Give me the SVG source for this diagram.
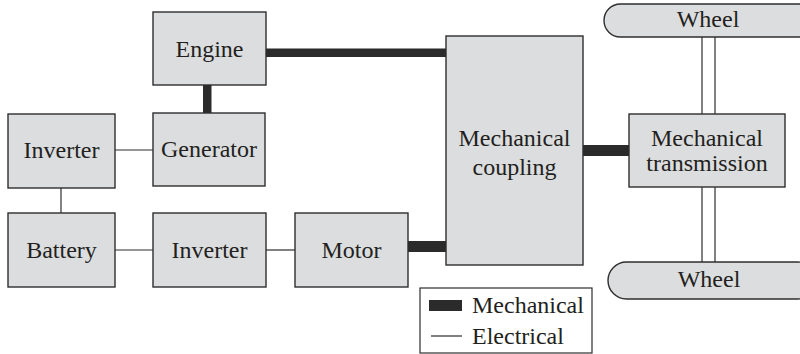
<svg xmlns="http://www.w3.org/2000/svg" width="800" height="354" viewBox="0 0 800 354">
<style>
.box{fill:#dcdddf;stroke:#2e2e2e;stroke-width:1.4}
.t{font-family:"Liberation Serif","Times New Roman",serif;font-size:24px;fill:#231f20;text-anchor:middle}
.lt{font-family:"Liberation Serif","Times New Roman",serif;font-size:24px;fill:#231f20}
.mech{fill:#2b2b2b;stroke:none}
.elec{stroke:#2e2e2e;stroke-width:1.2;fill:none}
</style>
<rect width="800" height="354" fill="#ffffff"/>
<g id="connectors">
<rect class="mech" x="266" y="48.5" width="180" height="8.5"/>
<rect class="mech" x="203" y="85" width="8.5" height="28"/>
<rect class="mech" x="408" y="241" width="38" height="11"/>
<rect class="mech" x="583" y="145" width="46" height="11"/>
<line class="elec" x1="115" y1="150" x2="153" y2="150"/>
<line class="elec" x1="61" y1="188" x2="61" y2="213"/>
<line class="elec" x1="115" y1="250" x2="153" y2="250"/>
<line class="elec" x1="266" y1="250" x2="295" y2="250"/>
<line class="elec" x1="702" y1="37" x2="702" y2="114"/>
<line class="elec" x1="715" y1="37" x2="715" y2="114"/>
<line class="elec" x1="702" y1="187" x2="702" y2="262"/>
<line class="elec" x1="715" y1="187" x2="715" y2="262"/>
</g>
<g id="engine"><rect class="box" x="153" y="12" width="113" height="73"/><text class="t" x="209.5" y="57">Engine</text></g>
<g id="generator"><rect class="box" x="153" y="113" width="112" height="73"/><text class="t" x="209" y="157">Generator</text></g>
<g id="inverter1"><rect class="box" x="8" y="114" width="107" height="74"/><text class="t" x="61.5" y="158">Inverter</text></g>
<g id="battery"><rect class="box" x="8" y="213" width="107" height="74"/><text class="t" x="61.5" y="258">Battery</text></g>
<g id="inverter2"><rect class="box" x="153" y="213" width="113" height="74"/><text class="t" x="209.5" y="258">Inverter</text></g>
<g id="motor"><rect class="box" x="295" y="213" width="113" height="74"/><text class="t" x="351.5" y="258">Motor</text></g>
<g id="coupling"><rect class="box" x="446" y="36" width="137" height="229"/><text class="t" x="514.5" y="146">Mechanical</text><text class="t" x="514.5" y="175">coupling</text></g>
<g id="transmission"><rect class="box" x="629" y="114" width="156" height="73"/><text class="t" x="707" y="146">Mechanical</text><text class="t" x="707" y="171">transmission</text></g>
<g id="wheel-top"><rect class="box" x="604" y="4" width="212" height="33" rx="16.5"/><text class="t" x="708" y="27">Wheel</text></g>
<g id="wheel-bottom"><rect class="box" x="608" y="262" width="208" height="37" rx="18.5"/><text class="t" x="709" y="287">Wheel</text></g>
<g id="legend">
<rect x="420" y="288" width="172" height="65" fill="#ffffff" stroke="#2e2e2e" stroke-width="1.2"/>
<rect class="mech" x="429" y="300" width="33" height="11"/>
<line class="elec" x1="431" y1="336" x2="462" y2="336"/>
<text class="lt" x="472" y="313">Mechanical</text>
<text class="lt" x="472" y="344">Electrical</text>
</g>
</svg>
